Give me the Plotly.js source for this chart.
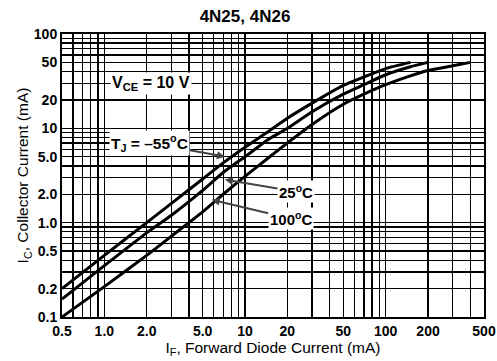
<!DOCTYPE html>
<html><head><meta charset="utf-8">
<script src="https://cdn.plot.ly/plotly-3.0.1.min.js"></script>
<style>body{margin:0;background:#fff}#c{width:497px;height:361px}</style>
</head><body><div id="c"></div>
<script>
// Forward diode current IF (mA) and collector current IC (mA)
const ifM55 = [0.5, 1, 2, 3, 5, 7, 10, 15, 20, 30, 50, 70, 100, 150];
const icM55 = [0.2, 0.45, 1.0, 1.6, 2.9, 4.3, 6.3, 9.5, 12.8, 18.5, 28.5, 35, 43, 50];
const if25 = [0.5, 1, 2, 3, 5, 7, 10, 15, 20, 30, 50, 70, 100, 150, 200];
const ic25 = [0.155, 0.35, 0.78, 1.2, 2.2, 3.4, 5.0, 7.8, 10, 15, 23, 29, 37, 45, 50];
const if100 = [0.5, 1, 2, 3, 5, 7, 10, 15, 20, 30, 50, 70, 100, 150, 200, 300, 400];
const ic100 = [0.1, 0.21, 0.45, 0.72, 1.3, 2.0, 3.1, 5.0, 7.0, 11, 18, 23, 29, 36, 41, 46, 50];

const xTickVals = [0.5, 1, 2, 5, 10, 20, 50, 100, 200, 500];
const xTickText = ['0.5', '1.0', '2.0', '5.0', '10', '20', '50', '100', '200', '500'];
const xMinorVals = [0.6,0.7,0.8,0.9,3,4,6,7,8,9,30,40,60,70,80,90,300,400];
const yTickVals = [0.1, 0.2, 0.5, 1, 2, 5, 10, 20, 50, 100];
const yTickText = ['0.1', '0.2', '0.5', '1.0', '2.0', '5.0', '10', '20', '50', '100'];
const yMinorVals = [0.3,0.4,0.6,0.7,0.8,0.9,3,4,6,7,8,9,30,40,60,70,80,90];

const lineStyle = {color:'#000', width:3, shape:'spline', smoothing:0.6};
const traces = [
  {x: ifM55, y: icM55, mode:'lines', line: lineStyle, hoverinfo:'skip'},
  {x: if25, y: ic25, mode:'lines', line: lineStyle, hoverinfo:'skip'},
  {x: if100, y: ic100, mode:'lines', line: lineStyle, hoverinfo:'skip'}
];

const FAM = 'Liberation Sans, Arial, sans-serif';
const axisCommon = {
  type:'log', showgrid:true, gridcolor:'#000', gridwidth:1.5,
  showline:true, linecolor:'#000', linewidth:2, mirror:true,
  ticks:'', zeroline:false, tickfont:{family:FAM, size:14, color:'#000', weight:'bold'}
};
const minorCommon = {showgrid:true, gridcolor:'#000', gridwidth:1.3, ticks:'', tickmode:'array'};
const layout = {
  width:497, height:361,
  margin:{l:62, r:13, t:34, b:44},
  paper_bgcolor:'#fff', plot_bgcolor:'#fff',
  showlegend:false,
  font:{family:FAM, size:14, color:'#000'},
  title:{text:'<b>4N25, 4N26</b>', x:0.493, xanchor:'center', y:0.955, yanchor:'middle',
         font:{family:FAM, size:17, color:'#000'}},
  xaxis: Object.assign({}, axisCommon, {
    range:[Math.log10(0.5), Math.log10(500)], tickmode:'array', tickvals:xTickVals, ticktext:xTickText,
    minor: Object.assign({}, minorCommon, {tickvals:xMinorVals}),
    title:{text:'I<sub>F</sub>, Forward Diode Current (mA)', standoff:4,
           font:{family:FAM, size:15.5, color:'#000'}}
  }),
  yaxis: Object.assign({}, axisCommon, {
    range:[Math.log10(0.1), Math.log10(100)], tickmode:'array', tickvals:yTickVals, ticktext:yTickText,
    minor: Object.assign({}, minorCommon, {tickvals:yMinorVals}),
    title:{text:'I<sub>C</sub>, Collector Current (mA)', standoff:1,
           font:{family:FAM, size:15.5, color:'#000'}}
  }),
  annotations:[
    {xref:'paper', yref:'paper', x:0.113, y:0.826, xanchor:'left', yanchor:'middle',
     text:'<b>V<sub>CE</sub> = 10 V</b>', showarrow:false, bgcolor:'#fff',
     font:{family:FAM, size:16, color:'#000'}},
    {x:Math.log10(7.2), y:Math.log10(5.0), xref:'x', yref:'y',
     text:'<b>T<sub>J</sub> = –55<sup>o</sup>C</b>', showarrow:true, arrowhead:2, arrowsize:0.8, arrowwidth:2,
     ax:-75, ay:-14, bgcolor:'#fff', font:{family:FAM, size:15.5, color:'#000'}},
    {x:Math.log10(7.2), y:Math.log10(2.86), xref:'x', yref:'y',
     text:'<b>25<sup>o</sup>C</b>', showarrow:true, arrowhead:2, arrowsize:0.8, arrowwidth:2,
     ax:71, ay:12, bgcolor:'#fff', font:{family:FAM, size:15, color:'#000'}},
    {x:Math.log10(5.8), y:Math.log10(1.75), xref:'x', yref:'y',
     text:'<b>100<sup>o</sup>C</b>', showarrow:true, arrowhead:2, arrowsize:0.8, arrowwidth:2,
     ax:79, ay:19, bgcolor:'#fff', font:{family:FAM, size:15, color:'#000'}}
  ]
};
Plotly.newPlot('c', traces, layout, {displayModeBar:false, staticPlot:true});
</script></body></html>
